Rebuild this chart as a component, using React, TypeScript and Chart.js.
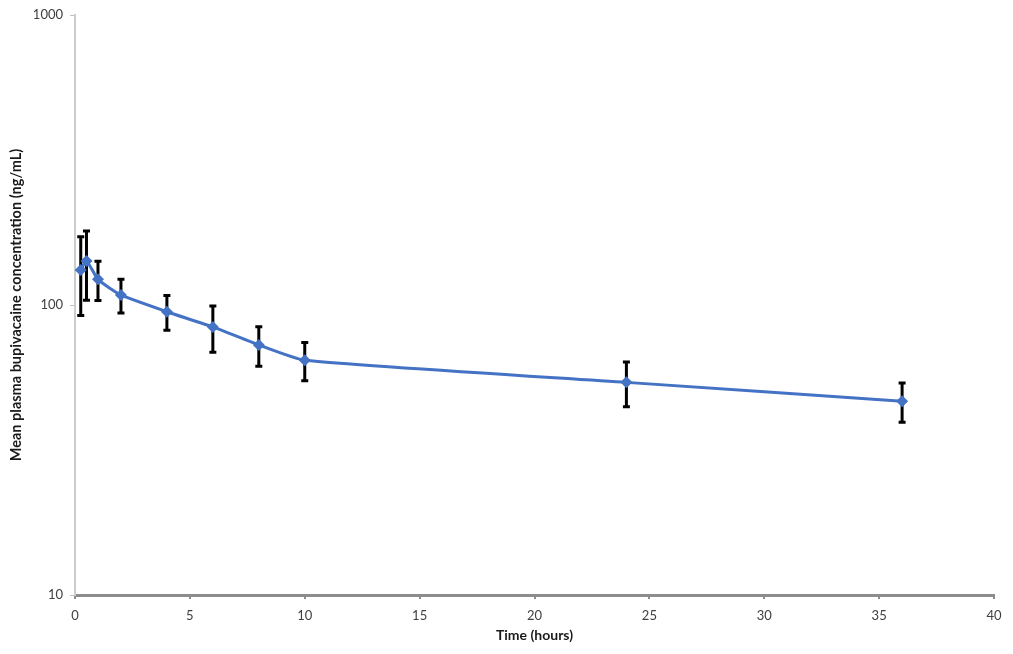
import { useEffect, useRef } from 'react'
import { Chart, registerables } from 'chart.js'

Chart.register(...registerables)

// sampling times (hours)
const times = [0.25, 0.5, 1, 2, 4, 6, 8, 10, 24, 36]
// mean plasma bupivacaine (ng/mL)
const meanConc = [132, 141.8, 122.6, 108.3, 94.8, 84.0, 72.8, 64.5, 54.1, 46.6]
// standard deviation (ng/mL)
const sdConc = [40, 38, 19, 14.5, 13, 15.3, 11.3, 9.7, 9.5, 7.2]

const yTicks = [10, 100, 1000]
const xMin = 0
const xMax = 40
const xStep = 5

const FONT = 'Lato, "Open Sans", sans-serif'

const errorBars = {
  id: 'errorBars',
  beforeDatasetsDraw(chart: Chart) {
    const { ctx, scales } = chart
    const xs = scales.x
    const ys = scales.y
    ctx.save()
    ctx.strokeStyle = '#000000'
    ctx.lineWidth = 3
    ctx.lineCap = 'butt'
    times.forEach((t, i) => {
      const x = xs.getPixelForValue(t)
      const top = ys.getPixelForValue(meanConc[i] + sdConc[i])
      const bot = ys.getPixelForValue(meanConc[i] - sdConc[i])
      ctx.beginPath()
      ctx.moveTo(x, top)
      ctx.lineTo(x, bot)
      ctx.moveTo(x - 3.5, top)
      ctx.lineTo(x + 3.5, top)
      ctx.moveTo(x - 3.5, bot)
      ctx.lineTo(x + 3.5, bot)
      ctx.stroke()
    })
    ctx.restore()
  },
}

export default function App() {
  const chartRef = useRef<HTMLCanvasElement>(null)
  const chartInstance = useRef<Chart | null>(null)

  useEffect(() => {
    document.body.style.margin = '0'
    if (!chartRef.current) return
    if (chartInstance.current) chartInstance.current.destroy()
    const ctx = chartRef.current.getContext('2d')
    if (!ctx) return

    chartInstance.current = new Chart(ctx, {
      type: 'line',
      data: {
        datasets: [
          {
            label: 'Mean plasma bupivacaine',
            data: times.map((t, i) => ({ x: t, y: meanConc[i] })),
            borderColor: '#4472C4',
            backgroundColor: '#4472C4',
            borderWidth: 3,
            tension: 0.18,
            pointStyle: 'rectRot',
            pointRadius: 6,
            pointBorderWidth: 0,
          },
        ],
      },
      options: {
        animation: false,
        responsive: true,
        maintainAspectRatio: false,
        layout: { padding: { top: 15, right: 19, left: 0, bottom: 0 } },
        plugins: {
          legend: { display: false },
          tooltip: { enabled: false },
        },
        scales: {
          x: {
            type: 'linear',
            min: xMin,
            max: xMax,
            ticks: {
              stepSize: xStep,
              color: '#404040',
              padding: 9,
              font: { family: FONT, size: 13 },
              maxRotation: 0,
            },
            grid: {
              drawOnChartArea: false,
              tickLength: 4,
              color: '#8c8c8c',
              lineWidth: 2,
            },
            border: { color: '#8c8c8c', width: 3 },
            title: {
              display: true,
              text: 'Time (hours)',
              color: '#1a1a1a',
              font: { family: FONT, size: 14, weight: 'bold' },
              padding: { top: 0, bottom: 10 },
            },
            afterFit(scale) {
              scale.height = 59
            },
          },
          y: {
            type: 'logarithmic',
            min: 10,
            max: 1000,
            afterBuildTicks(axis) {
              axis.ticks = yTicks.map((v) => ({ value: v }))
            },
            ticks: {
              color: '#404040',
              padding: 7,
              font: { family: FONT, size: 13 },
              callback: (v) => String(v),
            },
            grid: {
              drawOnChartArea: false,
              tickLength: 5,
              color: '#bfbfbf',
              lineWidth: 1,
            },
            border: { color: '#cccccc', width: 2 },
            title: {
              display: true,
              text: 'Mean plasma bupivacaine concentration (ng/mL)',
              color: '#1a1a1a',
              font: { family: FONT, size: 14.5, weight: 'bold' },
              padding: { top: 8, bottom: 0 },
            },
            afterFit(scale) {
              scale.width = 75
            },
          },
        },
      },
      plugins: [errorBars],
    })

    return () => {
      if (chartInstance.current) {
        chartInstance.current.destroy()
        chartInstance.current = null
      }
    }
  }, [])

  return (
    <div style={{ width: 1013, height: 654, background: '#fff' }}>
      <canvas ref={chartRef}></canvas>
    </div>
  )
}
